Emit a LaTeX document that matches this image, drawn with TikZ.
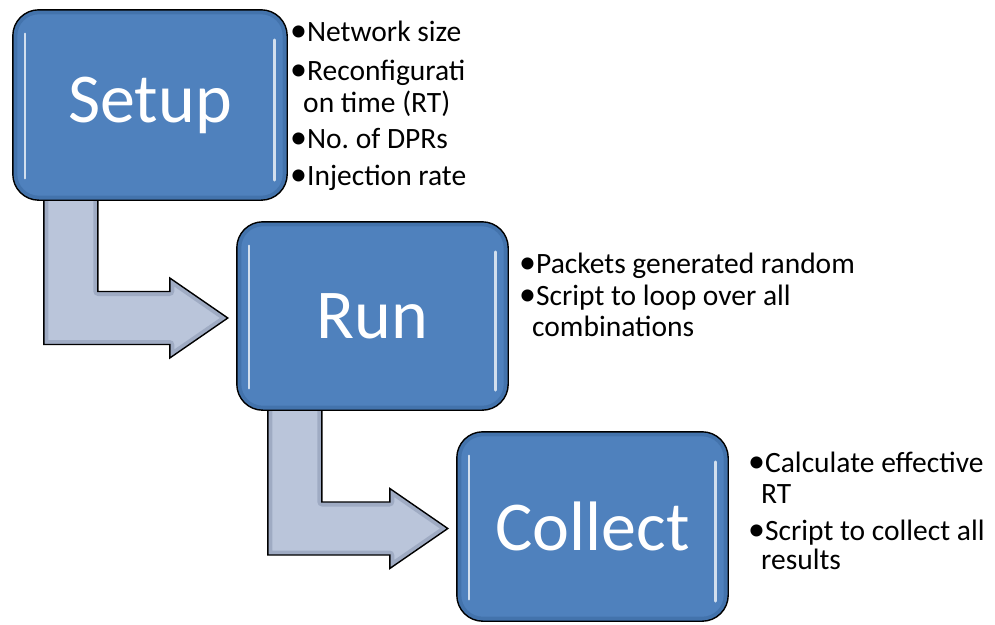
\documentclass[tikz,border=0pt]{standalone}
\usepackage{fontspec}
\setmainfont{Carlito}
\usetikzlibrary{calc,backgrounds}
\frenchspacing

\definecolor{boxblue}{HTML}{4F81BD}
\definecolor{boxrim}{HTML}{2F5A8E}
\definecolor{arrowfill}{HTML}{BAC5DA}
\definecolor{arrowrim}{HTML}{8593AE}

\tikzset{
  stagebox/.style={fill=boxblue, rounded corners=26pt, text=white,
    font=\fontsize{70}{84}\selectfont, inner sep=0pt},
  noteline/.style={anchor=base west, inner sep=0pt, text=black,
    font=\fontsize{29.5}{32}\selectfont},
  outline/.style={draw=black, line width=1.4pt},
}

% Bent block arrow leaving the bottom of #1 and pointing at the left side of #2
\newcommand\arrowpath[2]{%
  let \p1=(#1.south west), \p2=(#2.west) in
  (\x1+31pt,\y1+10pt) -- (\x1+85pt,\y1+10pt) -- (\x1+85pt,\y2-2pt+26.5pt)
  -- (\x2-67pt,\y2-2pt+26.5pt) -- (\x2-67pt,\y2-2pt+40pt) -- (\x2-9pt,\y2-2pt)
  -- (\x2-67pt,\y2-2pt-40pt) -- (\x2-67pt,\y2-2pt-26.5pt)
  -- (\x1+31pt,\y2-2pt-26.5pt) -- cycle}

\newcommand\bentarrow[2]{%
  \begin{scope}
    \clip \arrowpath{#1}{#2};
    \fill[arrowfill] \arrowpath{#1}{#2};
    \draw[arrowrim, line width=9pt, opacity=0.5, line join=round] \arrowpath{#1}{#2};
  \end{scope}
  \draw[outline, line join=miter] \arrowpath{#1}{#2};}

% Bevel rim, glossy edge highlights and outline of a stage box
\newcommand\glossbox[1]{%
  \begin{scope}
    \clip[rounded corners=26pt] (#1.south west) rectangle (#1.north east);
    \draw[boxrim, line width=9pt, opacity=0.35, rounded corners=26pt]
      (#1.south west) rectangle (#1.north east);
  \end{scope}
  \draw[white, line width=2.6pt, opacity=0.75, line cap=round]
    ($(#1.north west)+(12pt,-24pt)$) -- ($(#1.south west)+(12pt,22pt)$);
  \draw[white, line width=2.6pt, opacity=0.75, line cap=round]
    ($(#1.north east)+(-13pt,-30pt)$) -- ($(#1.south east)+(-13pt,20pt)$);
  \draw[outline, rounded corners=26pt] (#1.south west) rectangle (#1.north east);}

% larger list bullet, and the indent of a wrapped list line
\newcommand\blt{{\fontsize{34}{32}\selectfont\raisebox{-0.6pt}{•}}}
\newcommand\wrapind{\hspace{11pt}}

\begin{document}
\begin{tikzpicture}[x=1pt,y=-1pt]
  \useasboundingbox (0,0) rectangle (995,624);

  % stages
  \node[stagebox, minimum width=274pt, minimum height=190pt] (setup) at (150,105) {Setup};
  \node[stagebox, minimum width=271pt, minimum height=188pt] (run) at (372.5,316) {Run};
  \node[stagebox, minimum width=271pt, minimum height=189pt] (collect) at (592.5,526.5) {Collect};
  \glossbox{setup}
  \glossbox{run}
  \glossbox{collect}

  % flow arrows behind the stages
  \begin{pgfonlayer}{background}
    \bentarrow{setup}{run}
    \bentarrow{run}{collect}
  \end{pgfonlayer}

  % setup parameters
  \node[noteline] (s1) at (290,41)  {\blt Network size};
  \node[noteline] (s2) at (290,80)  {\blt Reconfigurati};
  \node[noteline] (s3) at (292,112) {\wrapind on time (RT)};
  \node[noteline] (s4) at (290,148) {\blt No. of DPRs};
  \node[noteline] (s5) at (290,185) {\blt Injection rate};

  % run notes
  \node[noteline] (r1) at (519,273) {\blt Packets generated random};
  \node[noteline] (r2) at (519,305) {\blt Script to loop over all};
  \node[noteline] (r3) at (521,336) {\wrapind combinations};

  % collect notes
  \node[noteline] (c1) at (748,472) {\blt Calculate effective};
  \node[noteline] (c2) at (750,503) {\wrapind RT};
  \node[noteline] (c3) at (748,540) {\blt Script to collect all};
  \node[noteline] (c4) at (750,569) {\wrapind results};
\end{tikzpicture}
\end{document}
